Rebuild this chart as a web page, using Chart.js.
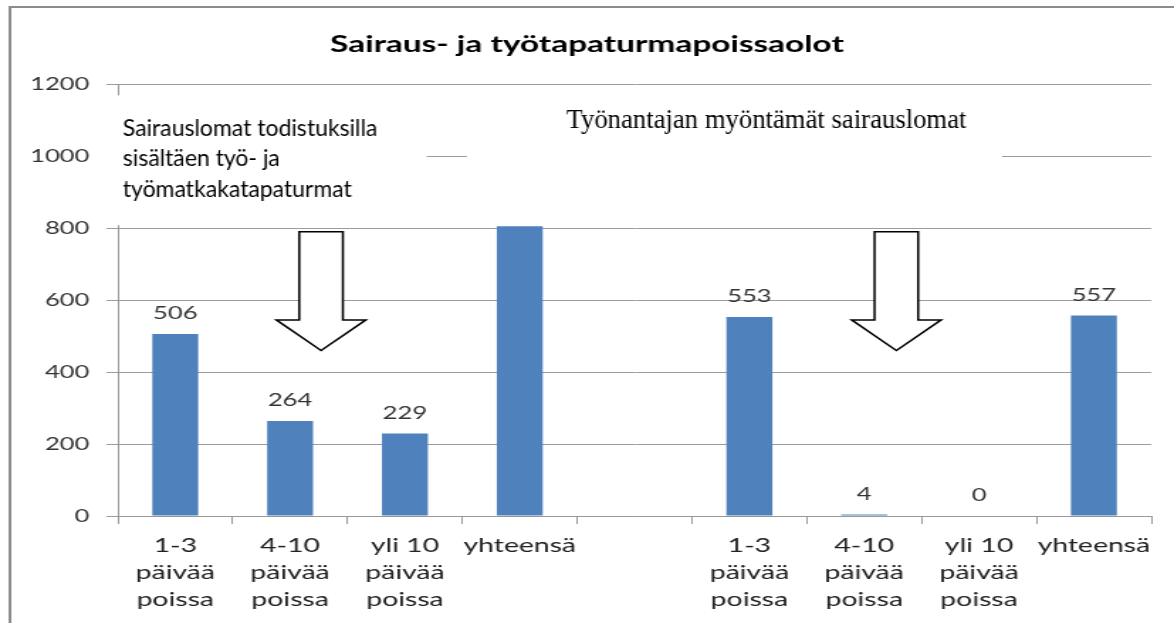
<!DOCTYPE html>
<html>
<head>
<meta charset="utf-8">
<title>Sairaus- ja työtapaturmapoissaolot</title>
<script src="https://cdn.jsdelivr.net/npm/chart.js@4.4.1/dist/chart.umd.min.js"></script>
<style>
  html, body { margin: 0; padding: 0; background: #fff; overflow: hidden; }
  #chart { display: block; }
</style>
</head>
<body>
<!-- the original chart picture is stretched sideways, so the canvas is too -->
<canvas id="chart" width="827" height="623" style="width:1174px;height:623px"></canvas>
<script>
const categories = [
    ['1-3', 'päivää', 'poissa'], ['4-10', 'päivää', 'poissa'], ['yli 10', 'päivää', 'poissa'], 'yhteensä',
    '',
    ['1-3', 'päivää', 'poissa'], ['4-10', 'päivää', 'poissa'], ['yli 10', 'päivää', 'poissa'], 'yhteensä'
];
const values = [506, 264, 229, 805, null, 553, 4, 0, 557];
const yTicks = [0, 200, 400, 600, 800, 1000, 1200];
const chartTitle = 'Sairaus- ja työtapaturmapoissaolot';
const noteLeft = ['Sairauslomat todistuksilla', 'sisältäen työ- ja', 'työmatkakatapaturmat'];
const noteRight = 'Työnantajan myöntämät sairauslomat';
const arrowAt = [1.27, 6.28];

const canvas = document.getElementById('chart');
const stretch = 1174 / canvas.width;

// text that sits on top of the picture is not stretched
function flatText(ctx, str, x, y) {
    ctx.save();
    ctx.translate(x, y);
    ctx.scale(1 / stretch, 1);
    ctx.fillText(str, 0, 0);
    ctx.restore();
}

const frame = {
    id: 'frame',
    beforeDraw(chart) {
        const ctx = chart.ctx;
        ctx.save();
        ctx.fillStyle = '#fff';
        ctx.fillRect(0, 0, chart.width, chart.height);
        ctx.strokeStyle = '#8c8c8c';
        ctx.lineWidth = 2;
        ctx.beginPath();
        ctx.moveTo(7, chart.height);
        ctx.lineTo(7, 7);
        ctx.lineTo(chart.width, 7);
        ctx.stroke();
        ctx.restore();
    }
};

const barLabels = {
    id: 'barLabels',
    afterDatasetsDraw(chart) {
        const ctx = chart.ctx;
        ctx.save();
        ctx.font = '18px Lato';
        ctx.fillStyle = '#333';
        ctx.textAlign = 'center';
        ctx.textBaseline = 'alphabetic';
        chart.getDatasetMeta(0).data.forEach((bar, i) => {
            if (values[i] === null) return;
            ctx.fillText(String(values[i]), bar.x, bar.y - 15);
        });
        ctx.restore();
    }
};

const notes = {
    id: 'notes',
    afterDraw(chart) {
        const { ctx, scales: { x, y } } = chart;
        const step = x.getPixelForValue(1) - x.getPixelForValue(0);
        const px = v => x.getPixelForValue(0) + v * step;

        ctx.save();
        // white text boxes
        ctx.fillStyle = '#fff';
        ctx.fillRect(px(-0.66), y.getPixelForValue(1169), px(2.19) - px(-0.66), y.getPixelForValue(808) - y.getPixelForValue(1169));
        ctx.fillRect(px(2.54), y.getPixelForValue(1169), px(7.2) - px(2.54), y.getPixelForValue(817) - y.getPixelForValue(1169));

        ctx.fillStyle = '#000';
        ctx.textAlign = 'left';
        ctx.textBaseline = 'middle';
        ctx.font = '23px Lato';
        [1078, 992, 906].forEach((v, i) => flatText(ctx, noteLeft[i], px(-0.457), y.getPixelForValue(v)));
        ctx.font = '26.7px "Liberation Serif"';
        flatText(ctx, noteRight, px(3.408), y.getPixelForValue(1097));

        // down arrows
        ctx.strokeStyle = '#000';
        ctx.lineWidth = 1.5;
        ctx.lineJoin = 'miter';
        arrowAt.forEach(a => {
            const cx = px(a), hw = 0.19 * step, hh = 0.39 * step;
            const top = y.getPixelForValue(790), neck = y.getPixelForValue(545), tip = y.getPixelForValue(460);
            ctx.beginPath();
            ctx.moveTo(cx - hw, top);
            ctx.lineTo(cx + hw, top);
            ctx.lineTo(cx + hw, neck);
            ctx.lineTo(cx + hh, neck);
            ctx.lineTo(cx, tip);
            ctx.lineTo(cx - hh, neck);
            ctx.lineTo(cx - hw, neck);
            ctx.closePath();
            ctx.fillStyle = '#fff';
            ctx.fill();
            ctx.stroke();
        });
        ctx.restore();
    }
};

new Chart(canvas, {
    type: 'bar',
    data: {
        labels: categories,
        datasets: [{
            data: values,
            backgroundColor: '#4F81BD',
            barPercentage: 0.4,
            categoryPercentage: 1
        }]
    },
    options: {
        responsive: false,
        animation: false,
        events: [],
        layout: { padding: { left: 16, right: 16, top: 0, bottom: 0 } },
        plugins: {
            legend: { display: false },
            tooltip: { enabled: false },
            title: {
                display: true,
                text: chartTitle,
                color: '#000',
                font: { family: 'Lato', size: 23.5, weight: 'bold', lineHeight: 1.2 },
                padding: { top: 30, bottom: 26 }
            }
        },
        scales: {
            x: {
                grid: { drawOnChartArea: false, color: '#999', tickLength: 8, offset: true },
                border: { color: '#999' },
                ticks: {
                    color: '#222',
                    padding: 8,
                    maxRotation: 0,
                    autoSkip: false,
                    font: { family: 'Lato', size: 20, lineHeight: '27px' }
                },
                afterFit: s => { s.height = 107; }
            },
            y: {
                min: 0,
                max: 1200,
                afterBuildTicks: s => { s.ticks = yTicks.map(v => ({ value: v })); },
                grid: { color: '#9c9c9c', tickLength: 8 },
                border: { color: '#999' },
                ticks: {
                    color: '#333',
                    padding: 12,
                    font: { family: 'Lato', size: 18 },
                    callback: v => String(v)
                },
                afterFit: s => { s.width = 67; }
            }
        }
    },
    plugins: [frame, barLabels, notes]
});
</script>
</body>
</html>
